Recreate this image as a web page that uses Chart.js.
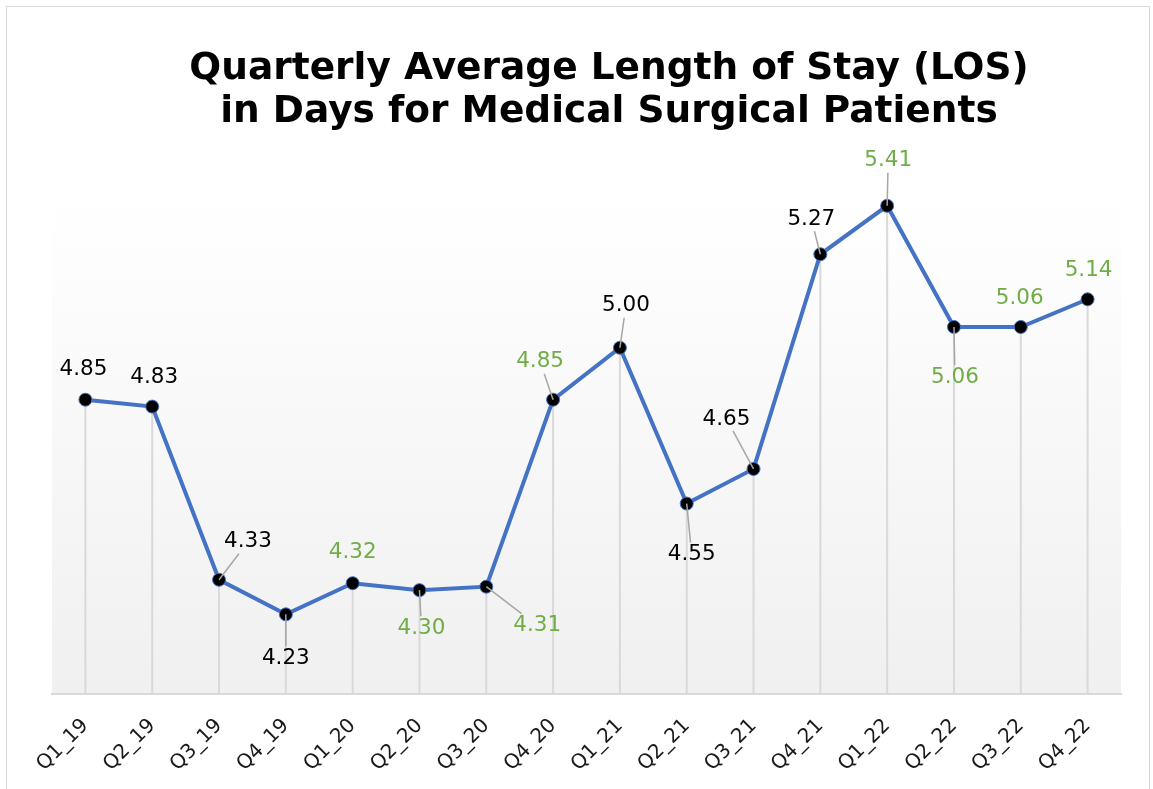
<!DOCTYPE html>
<html>
<head>
<meta charset="utf-8">
<script src="https://cdn.jsdelivr.net/npm/chart.js@4.4.1/dist/chart.umd.min.js"></script>
<style>
  html, body { margin: 0; padding: 0; background: #fff; }
  canvas { display: block; }
</style>
</head>
<body>
<canvas id="myChart" width="1153" height="789"></canvas>
<script>
// quarters and LOS values
const quarters = ['Q1_19', 'Q2_19', 'Q3_19', 'Q4_19', 'Q1_20', 'Q2_20', 'Q3_20', 'Q4_20',
  'Q1_21', 'Q2_21', 'Q3_21', 'Q4_21', 'Q1_22', 'Q2_22', 'Q3_22', 'Q4_22'];
const losDays = [4.85, 4.83, 4.33, 4.23, 4.32, 4.30, 4.31, 4.85,
  5.00, 4.55, 4.65, 5.27, 5.41, 5.06, 5.06, 5.14];
// which labels are shown green
const greenLabel = [false, false, false, false, true, true, true, true,
  false, false, false, false, true, true, true, true];
const titleLines = ['Quarterly Average Length of Stay (LOS)', 'in Days for Medical Surgical Patients'];

// label placement: offset of label centre from the point, and whether a leader line is drawn
const labelOffsets = [
  [-2, -30, false], [2, -29, false], [29, -38, true], [0, 44, true],
  [0, -31, false], [2, 38, true], [51, 39, true], [-13, -38, true],
  [6, -42, true], [5, 51, true], [-27, -50, true], [-9, -35, true],
  [1, -45, true], [1, 50, true], [-1, -29, false], [1, -29, false]
];

const frame = {
  id: 'frame',
  beforeDraw(chart) {
    const ctx = chart.ctx;
    const a = chart.chartArea;
    ctx.save();
    ctx.fillStyle = '#fff';
    ctx.fillRect(0, 0, chart.width, chart.height);
    ctx.strokeStyle = '#d9d9d9';
    ctx.lineWidth = 1;
    ctx.strokeRect(6.5, 6.5, chart.width - 10, chart.height + 10);
    const g = ctx.createLinearGradient(0, a.top, 0, a.bottom);
    g.addColorStop(0, '#ffffff');
    g.addColorStop(0.1, '#ffffff');
    g.addColorStop(1, '#f0f0f0');
    ctx.fillStyle = g;
    ctx.fillRect(a.left, a.top, a.right - a.left, a.bottom - a.top);

    // title, centred where the original sits
    ctx.fillStyle = '#000';
    ctx.font = 'bold 37.5px "DejaVu Sans", Verdana, sans-serif';
    ctx.textAlign = 'center';
    ctx.textBaseline = 'middle';
    titleLines.forEach((t, i) => ctx.fillText(t, 609, 69 + i * 43));
    ctx.restore();
  }
};

const dropLines = {
  id: 'dropLines',
  beforeDatasetsDraw(chart) {
    const ctx = chart.ctx;
    const meta = chart.getDatasetMeta(0);
    ctx.save();
    ctx.strokeStyle = '#d9d9d9';
    ctx.lineWidth = 2;
    meta.data.forEach(p => {
      ctx.beginPath();
      ctx.moveTo(p.x, p.y);
      ctx.lineTo(p.x, chart.chartArea.bottom);
      ctx.stroke();
    });
    ctx.restore();
  }
};

const dataLabels = {
  id: 'dataLabels',
  afterDatasetsDraw(chart) {
    const ctx = chart.ctx;
    const meta = chart.getDatasetMeta(0);
    ctx.save();
    ctx.font = '21.5px "DejaVu Sans", Verdana, sans-serif';
    ctx.textAlign = 'center';
    ctx.textBaseline = 'middle';
    meta.data.forEach((p, i) => {
      const [dx, dy, leader] = labelOffsets[i];
      const text = losDays[i].toFixed(2);
      const lx = p.x + dx, ly = p.y + dy;
      if (leader) {
        const hw = ctx.measureText(text).width / 2 + 3, hh = 12;
        const vx = p.x - lx, vy = p.y - ly;
        const t = Math.min(Math.abs(vx) > 0 ? hw / Math.abs(vx) : Infinity,
                           Math.abs(vy) > 0 ? hh / Math.abs(vy) : Infinity);
        ctx.strokeStyle = '#a6a6a6';
        ctx.lineWidth = 1.5;
        ctx.beginPath();
        ctx.moveTo(p.x, p.y);
        ctx.lineTo(lx + vx * t, ly + vy * t);
        ctx.stroke();
      }
      ctx.fillStyle = greenLabel[i] ? '#70ad47' : '#000000';
      ctx.fillText(text, lx, ly);
    });
    ctx.restore();
  }
};

new Chart(document.getElementById('myChart'), {
  type: 'line',
  data: {
    labels: quarters,
    datasets: [{
      data: losDays,
      borderColor: '#4472c4',
      borderWidth: 4,
      pointBackgroundColor: '#000000',
      pointBorderColor: '#4472c4',
      pointBorderWidth: 1,
      pointRadius: 6.5,
      pointHoverRadius: 6.5,
      tension: 0,
      clip: false
    }]
  },
  options: {
    responsive: false,
    animation: false,
    layout: { padding: { left: 52, right: 32, top: 140, bottom: 0 } },
    plugins: {
      legend: { display: false },
      tooltip: { enabled: false },
      title: { display: false }
    },
    scales: {
      x: {
        offset: true,
        grid: { display: false },
        border: { color: '#d9d9d9', width: 2 },
        ticks: {
          color: '#1a1a1a',
          font: { family: '"DejaVu Sans", Verdana, sans-serif', size: 20 },
          minRotation: 45,
          maxRotation: 45,
          padding: 12
        },
        afterFit(s) { s.height = 95; s.paddingLeft = 0; s.paddingRight = 0; }
      },
      y: {
        display: false,
        min: 4.0,
        max: 5.6
      }
    }
  },
  plugins: [frame, dropLines, dataLabels]
});
</script>
</body>
</html>
